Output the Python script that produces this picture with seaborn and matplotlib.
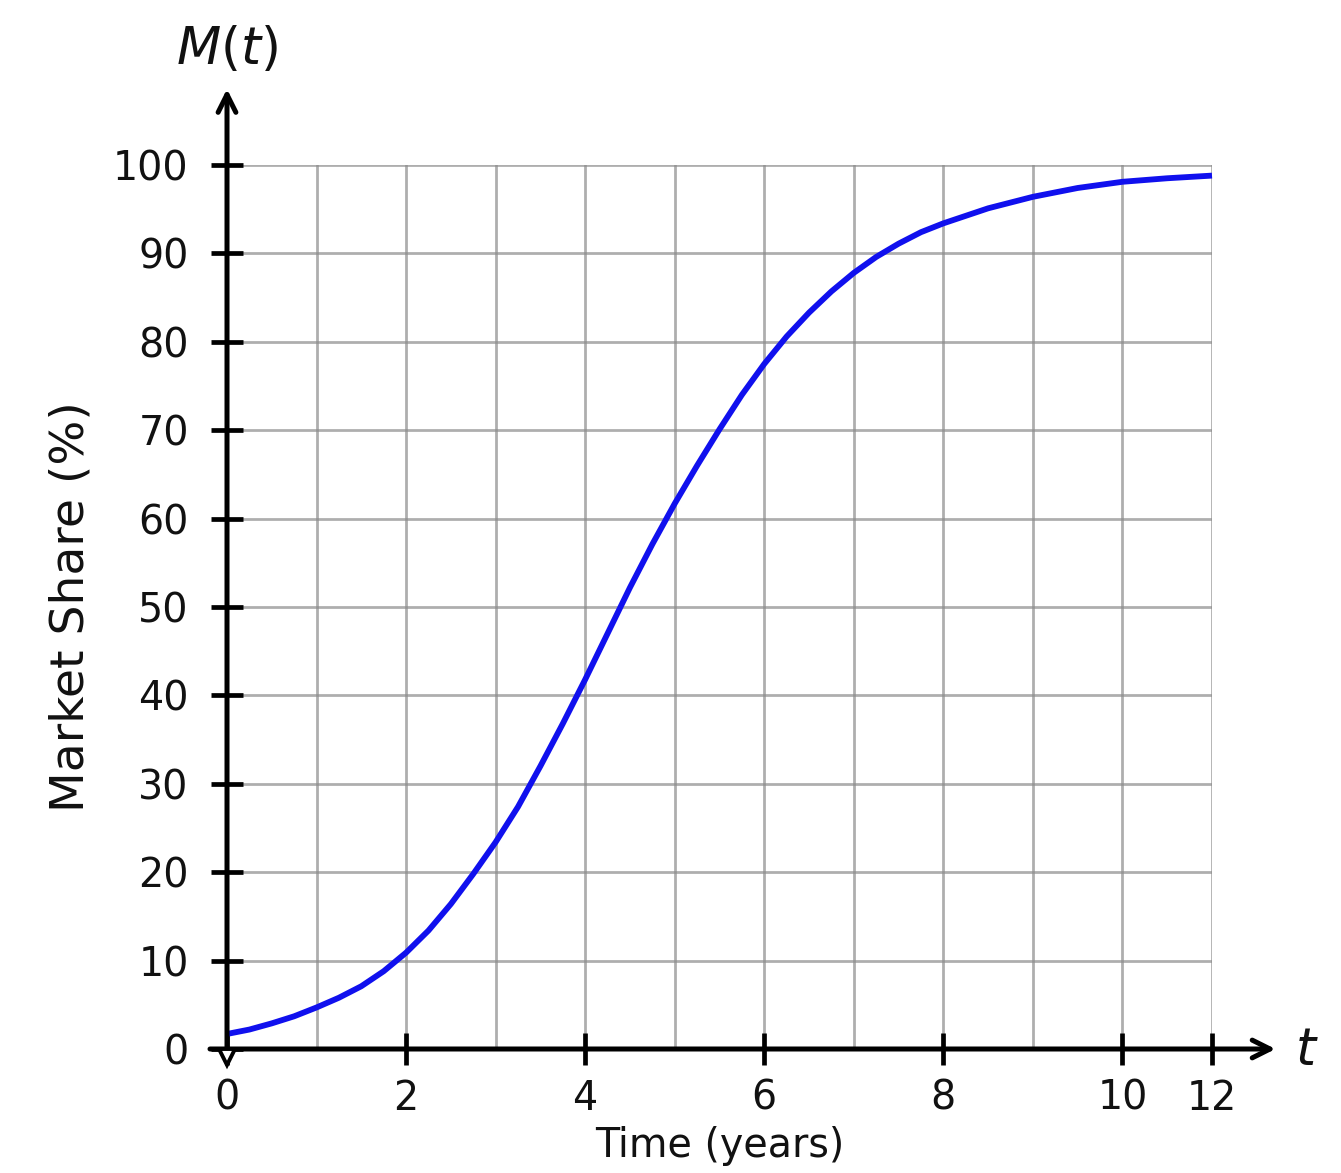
import matplotlib
matplotlib.use("Agg")
import matplotlib.pyplot as plt
import pandas as pd
import seaborn as sns

# ---- data ----
t_years = [0, 0.25, 0.5, 0.75, 1, 1.25, 1.5, 1.75, 2, 2.25, 2.5, 2.75,
           3, 3.25, 3.5, 3.75, 4, 4.25, 4.5, 4.75, 5, 5.25, 5.5, 5.75,
           6, 6.25, 6.5, 6.75, 7, 7.25, 7.5, 7.75, 8, 8.5, 9, 9.5, 10, 10.5, 11]
market_share = [1.7, 2.2, 2.9, 3.7, 4.7, 5.8, 7.1, 8.8, 10.9, 13.4, 16.4, 19.8,
                23.4, 27.4, 32.0, 36.8, 41.8, 47.0, 52.2, 57.1, 61.7, 66.0, 70.1, 74.0,
                77.5, 80.6, 83.3, 85.7, 87.8, 89.6, 91.1, 92.4, 93.4, 95.1, 96.4, 97.4,
                98.1, 98.5, 98.8]
x_tick_pos = [0, 2, 4, 6, 8, 10, 11]
x_tick_labels = ["0", "2", "4", "6", "8", "10", "12"]
x_grid = list(range(0, 12))
y_ticks = list(range(0, 101, 10))

sns.set_theme(style="white")
plt.rcParams["font.family"] = ["DejaVu Sans"]
plt.rcParams["mathtext.fontset"] = "dejavusans"

W, H = 1341, 1173
fig = plt.figure(figsize=(W / 100, H / 100), dpi=100)
fig.patch.set_facecolor("white")
ax = fig.add_axes([227 / W, (H - 1049) / H, (1212 - 227) / W, (1049 - 165) / H])
ax.set_facecolor("white")

df = pd.DataFrame({"t": t_years, "M": market_share})
sns.lineplot(data=df, x="t", y="M", ax=ax, color="#1010ee", linewidth=4.2,
             zorder=5, clip_on=False)
ax.lines[-1].set_solid_capstyle("butt")
ax.lines[-1].set_solid_joinstyle("round")

ax.set_xlim(0, 11)
ax.set_ylim(0, 100)
for s in ax.spines.values():
    s.set_visible(False)

ax.set_xticks(x_tick_pos)
ax.set_xticklabels(x_tick_labels)
ax.set_xticks(x_grid, minor=True)
ax.set_yticks(y_ticks)
ax.grid(True, which="both", color="#8c8c8c", linewidth=2.0, alpha=0.7, zorder=0)
ax.set_axisbelow(True)

ax.tick_params(axis="both", which="major", direction="inout", length=23, width=3.4,
               color="black", labelsize=28.5, labelcolor="#111111")
ax.tick_params(axis="both", which="minor", length=0)
ax.tick_params(axis="x", which="major", pad=10)
ax.tick_params(axis="y", which="major", pad=16)
ax.xaxis.set_ticks_position("bottom")
ax.yaxis.set_ticks_position("left")

# axis lines with arrows
arrow_kw = dict(arrowstyle="->", color="black", lw=3.6, mutation_scale=32,
                shrinkA=0, shrinkB=0)
ax.annotate("", xy=(11.71, 0), xytext=(-0.19, 0), xycoords="data",
            arrowprops=arrow_kw, annotation_clip=False, zorder=7)
ax.annotate("", xy=(0, 108.6), xytext=(0, -0.3), xycoords="data",
            arrowprops=arrow_kw, annotation_clip=False, zorder=7)
ax.plot([0], [-0.9], marker="v", markersize=12, markerfacecolor="white",
        markeredgecolor="black", markeredgewidth=2.8, clip_on=False, zorder=8)

ax.text(0, 113.0, r"$M(t)$", ha="center", va="center", fontsize=37, color="#111111")
ax.text(12.06, -0.2, r"$t$", ha="center", va="center", fontsize=37, color="#111111")

ax.set_xlabel("Time (years)", fontsize=28.5, labelpad=5, color="#111111")
ax.set_ylabel("Market Share (%)", fontsize=34, labelpad=14, color="#111111")

fig.savefig("out.png", dpi=100, facecolor="white")
